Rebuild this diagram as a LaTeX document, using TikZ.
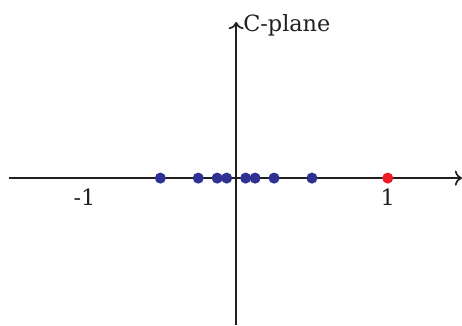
\documentclass[tikz,border=0pt]{standalone}
\usepackage{fontspec}
\setmainfont{DejaVu Serif}
\usetikzlibrary{arrows.meta, positioning}
\definecolor{AX}{RGB}{35,31,32}
\definecolor{DB}{RGB}{46,49,146}
\definecolor{DR}{RGB}{237,28,36}
\begin{document}
\begin{tikzpicture}[
  x=2.5cm, y=2.5cm,
  pt/.style={circle, fill=#1, minimum size=5.2pt, inner sep=0},
  ax/.style={->, draw=AX, line width=0.8pt},
  lbl/.style={font=\fontsize{10.5}{12}\selectfont, text=AX, inner sep=1pt}
]
\useasboundingbox (-1.558,-0.97) rectangle (1.49,1.175);

% Axes
\coordinate (xl) at (-1.5,0);
\coordinate (xr) at (1.49,0);
\coordinate (yb) at (0,-0.97);
\coordinate (yt) at (0,1.03);
\draw[ax] (xl)--(xr);
\draw[ax] (yb)--(yt);
\node[lbl, anchor=west] (cp) at (0.03,1.005) {C-plane};

% Tick labels
\node[lbl] (m1) at (-1,-0.125) {-1};
\node[lbl] (p1) at (1,-0.125) {1};

% Points
\foreach \n/\v in {a/-0.5,b/-0.25,c/-0.125,d/-0.0625,e/0.0625,f/0.125,g/0.25,h/0.5}
  \node[pt=DB] (\n) at (\v,0) {};
\node[pt=DR] (one) at (1,0) {};
\end{tikzpicture}
\end{document}
